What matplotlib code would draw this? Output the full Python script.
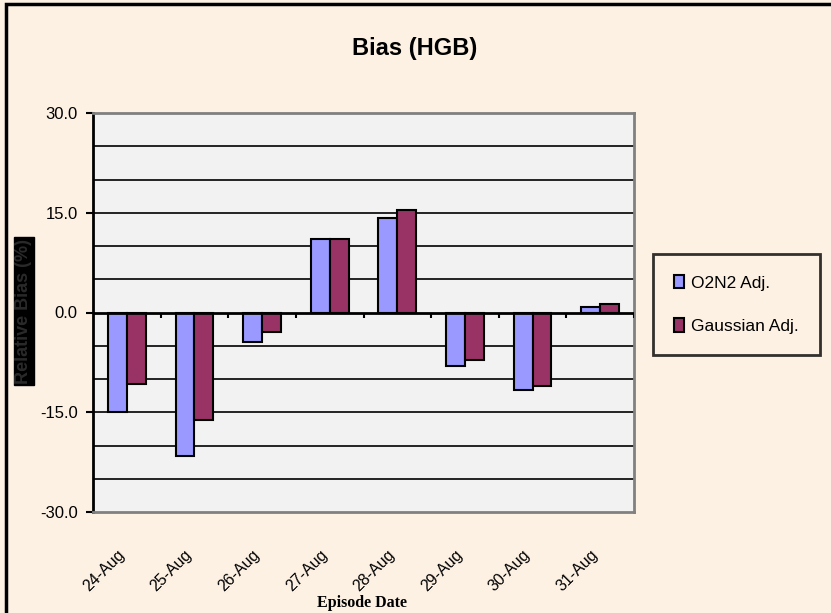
"""Bias (HGB) bar chart"""
import matplotlib.pyplot as plt
from matplotlib.patches import Rectangle

dates = ["24-Aug", "25-Aug", "26-Aug", "27-Aug", "28-Aug", "29-Aug", "30-Aug", "31-Aug"]
o2n2_adj = [-14.9, -21.6, -4.5, 11.1, 14.2, -8.1, -11.7, 0.9]
gaussian_adj = [-10.8, -16.2, -3.0, 11.1, 15.4, -7.2, -11.1, 1.3]
y_ticks = [-30.0, -15.0, 0.0, 15.0, 30.0]
grid_levels = [-25, -20, -15, -10, -5, 5, 10, 15, 20, 25]

BG = "#FDF1E3"
PLOT_BG = "#F2F2F2"
BLUE = "#9999FF"
RED = "#993366"

plt.rcParams["font.family"] = ["Liberation Sans", "DejaVu Sans"]

fig = plt.figure(figsize=(8.31, 6.13), dpi=100, facecolor=BG)
ax = fig.add_axes([93 / 831, 1 - 512 / 613, 541 / 831, 399 / 613])
ax.set_facecolor(PLOT_BG)

# outer chart frame
fig.patches.append(
    Rectangle((6 / 831, -0.05), 1.1, 1 - 4 / 613 + 0.05, transform=fig.transFigure,
              fill=False, edgecolor="black", linewidth=2.5, zorder=0)
)

n = len(dates)
xs = list(range(n))
width = 0.28

for level in grid_levels:
    ax.axhline(level, color="black", linewidth=1.2, zorder=1)

ax.bar([x - width / 2 for x in xs], o2n2_adj, width, color=BLUE,
       edgecolor="black", linewidth=1.5, label="O2N2 Adj.", zorder=3)
ax.bar([x + width / 2 for x in xs], gaussian_adj, width, color=RED,
       edgecolor="black", linewidth=1.5, label="Gaussian Adj.", zorder=3)

# category axis crosses at zero, with ticks between groups
ax.axhline(0, color="black", linewidth=2, zorder=4)
ax.vlines([x + 0.5 for x in xs], -0.8, 0, color="black", linewidth=1.5, zorder=4)

ax.set_xlim(-0.5, n - 0.5)
ax.set_ylim(-30, 30)
ax.set_yticks(y_ticks)
ax.set_yticklabels([f"{v:.1f}" for v in y_ticks], fontsize=12)
ax.tick_params(axis="y", length=5, width=1.5, pad=6)

ax.set_xticks([x - 0.15 for x in xs])
ax.set_xticklabels(dates, rotation=45, ha="right", va="top", fontsize=11.5,
                   rotation_mode="anchor")
ax.tick_params(axis="x", length=0, pad=25)

for side in ["top", "right", "bottom"]:
    ax.spines[side].set_color("#808080")
    ax.spines[side].set_linewidth(2)
ax.spines["left"].set_color("black")
ax.spines["left"].set_linewidth(2)

fig.text(415 / 831, 1 - 48 / 613, "Bias (HGB)", ha="center", va="center",
         fontsize=17, fontweight="bold")
fig.text(362 / 831, 1 - 603 / 613, "Episode Date", ha="center", va="center",
         fontsize=11.5, fontweight="bold", family=["Liberation Serif", "DejaVu Serif"])
fig.text(24 / 831, 1 - 311 / 613, "Relative Bias (%)", ha="center", va="center",
         rotation=90, fontsize=13, fontweight="bold", color="#2a2a2a",
         bbox=dict(facecolor="black", edgecolor="black", pad=1.0))

leg = fig.legend(loc="upper left", bbox_to_anchor=(653 / 831, 1 - 254 / 613),
                 fontsize=12.5, frameon=True, fancybox=False, edgecolor="black",
                 facecolor=BG, handlelength=0.6, handleheight=0.8,
                 handletextpad=0.4, labelspacing=1.6, borderpad=1.2,
                 borderaxespad=0)
leg.get_frame().set_linewidth(2)

fig.savefig("out.png", dpi=100, facecolor=BG)
